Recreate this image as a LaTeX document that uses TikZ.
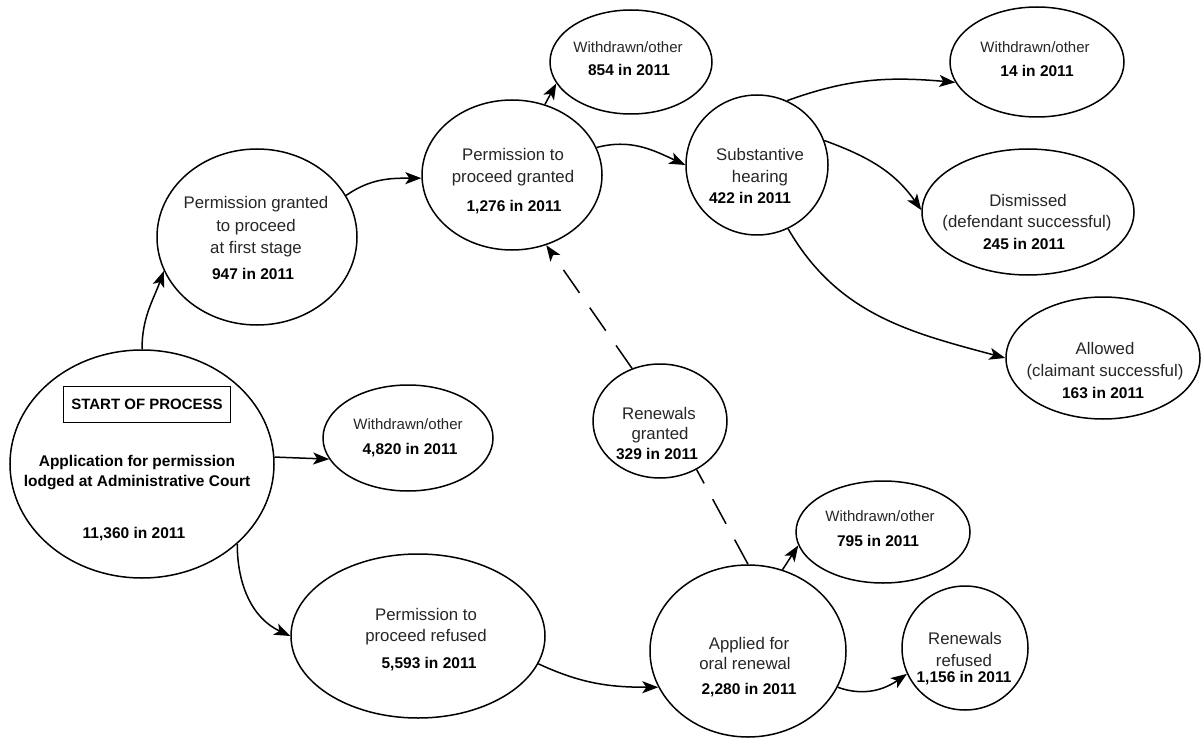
\documentclass[tikz,border=0pt]{standalone}
\usepackage{fontspec}
\setmainfont{Liberation Sans}
\usetikzlibrary{shapes.geometric,arrows.meta}
\begin{document}
\begin{tikzpicture}[x=1pt,y=-1pt,
  ell/.style={ellipse,draw,line width=1.5pt,inner sep=0pt},
  txt/.style={anchor=base,inner sep=0pt,text=black!85,font=\fontsize{16.8}{20}\selectfont},
  wtxt/.style={anchor=base,inner sep=0pt,text=black!85,font=\fontsize{15}{18}\selectfont},
  num/.style={anchor=base,inner sep=0pt,text=black,font=\fontsize{15.5}{18}\bfseries\selectfont},
  tip/.style={-{Stealth[length=16pt,width=12pt,inset=4pt]}},
  conn/.style={line width=1.5pt,tip},
  dconn/.style={line width=1.5pt,dash pattern=on 28pt off 18pt}
]
\useasboundingbox[fill=white] (0,0) rectangle (1202,738);

% ellipses
\node[ell,minimum width=264pt,minimum height=228pt] (start) at (142,464) {};
\node[ell,minimum width=200pt,minimum height=176pt] (pg1) at (257,237) {};
\node[ell,minimum width=180pt,minimum height=150pt] (ppg) at (512,175) {};
\node[ell,minimum width=162pt,minimum height=104pt] (w854) at (631,62) {};
\node[ell,minimum width=142pt,minimum height=140pt] (sub) at (757,165) {};
\node[ell,minimum width=174pt,minimum height=110pt] (w14) at (1037,62) {};
\node[ell,minimum width=212pt,minimum height=126pt] (dis) at (1028,212) {};
\node[ell,minimum width=194pt,minimum height=122pt] (allo) at (1103,358) {};
\node[ell,minimum width=170pt,minimum height=106pt] (w4820) at (408,438) {};
\node[ell,minimum width=134pt,minimum height=114pt] (rg) at (660,421) {};
\node[ell,minimum width=254pt,minimum height=164pt] (ppr) at (418,636) {};
\node[ell,minimum width=196pt,minimum height=172pt] (app) at (748,651) {};
\node[ell,minimum width=174pt,minimum height=102pt] (w795) at (883,532) {};
\node[ell,minimum width=126pt,minimum height=124pt] (rr) at (965,648) {};

% texts
\node[draw,line width=1pt,minimum width=167pt,minimum height=36pt,inner sep=0pt,
      font=\fontsize{15}{18}\bfseries\selectfont] (sop) at (147,404) {START OF PROCESS};
\node[num] (s1) at (137,466) {Application for permission};
\node[num] (s2) at (137,486) {lodged at Administrative Court};
\node[num] (s3) at (134,538) {11,360 in 2011};

\node[txt] (p1) at (256,209) {Permission granted};
\node[txt] (p2) at (256,232) {to proceed};
\node[txt] (p3) at (256,253) {at first stage};
\node[num] (p4) at (253,279) {947 in 2011};

\node[txt] (g1) at (513,161) {Permission to};
\node[txt] (g2) at (513,183) {proceed granted};
\node[num] (g3) at (514,212) {1,276 in 2011};

\node[wtxt] (a1) at (628,53) {Withdrawn/other};
\node[num] (a2) at (629,76) {854 in 2011};

\node[txt] (h1) at (760,161) {Substantive};
\node[txt] (h2) at (760,183) {hearing};
\node[num] (h3) at (750,204) {422 in 2011};

\node[wtxt] (b1) at (1035,53) {Withdrawn/other};
\node[num] (b2) at (1037,77) {14 in 2011};

\node[txt] (d1) at (1028,207) {Dismissed};
\node[txt] (d2) at (1027,228) {(defendant successful)};
\node[num] (d3) at (1024,249) {245 in 2011};

\node[txt] (l1) at (1105,354) {Allowed};
\node[txt] (l2) at (1105,376) {(claimant successful)};
\node[num] (l3) at (1103,398) {163 in 2011};

\node[wtxt] (c1) at (408,429) {Withdrawn/other};
\node[num] (c2) at (410,454) {4,820 in 2011};

\node[txt] (r1) at (659,419) {Renewals};
\node[txt] (r2) at (660,439) {granted};
\node[num] (r3) at (657,459) {329 in 2011};

\node[txt] (f1) at (426,620) {Permission to};
\node[txt] (f2) at (426,641) {proceed refused};
\node[num] (f3) at (429,668) {5,593 in 2011};

\node[txt] (o1) at (749,649) {Applied for};
\node[txt] (o2) at (745,669) {oral renewal};
\node[num] (o3) at (749,694) {2,280 in 2011};

\node[wtxt] (e1) at (880,521) {Withdrawn/other};
\node[num] (e2) at (878,546) {795 in 2011};

\node[txt] (q1) at (965,644) {Renewals};
\node[txt] (q2) at (964,666) {refused};
\node[num] (q3) at (964,682) {1,156 in 2011};

% connectors
\draw[conn] (start.90) to[out=90,in=250] (pg1.200);
\draw[conn] (pg1.25) to[out=35,in=180] (ppg.182);
\draw[conn] (ppg.65) -- (w854.196);
\draw[conn] (ppg.18) to[out=15,in=155] (sub.180);
\draw[conn] (sub.65) to[out=20,in=175] (w14.194);
\draw[conn] (sub.20) to[out=-20,in=125] (dis.179);
\draw[conn] (sub.296) to[out=-60,in=165] (allo.180);
\draw[conn] (start.3) -- (w4820.195);
\draw[conn] (start.320) to[out=-90,in=155] (ppr.180);
\draw[conn] (ppr.347) to[out=-25,in=180] (app.202);
\draw[conn] (app.67) -- (w795.189);
\draw[conn] (app.338) to[out=-20,in=215] (rr.204);
\draw[dconn] (app.90) -- (rg.307);
\draw[dconn,tip] (rg.118) -- (ppg.296);
\end{tikzpicture}
\end{document}
